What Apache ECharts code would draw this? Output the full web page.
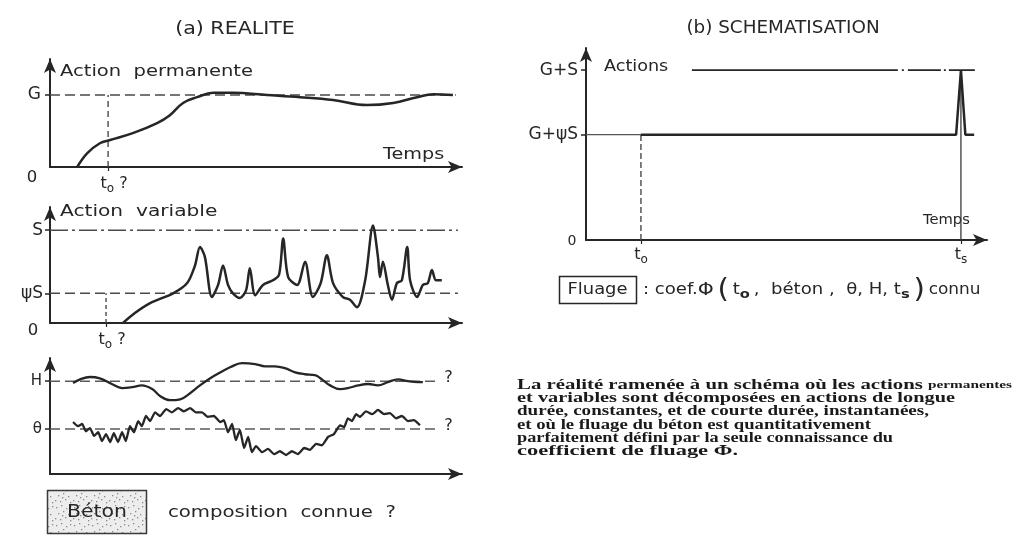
<!DOCTYPE html>
<html>
<head>
<meta charset="utf-8">
<script src="https://cdn.jsdelivr.net/npm/echarts@6/dist/echarts.min.js"></script>
<style>
  html, body { margin: 0; padding: 0; background: #ffffff; }
  #chart { width: 1017px; height: 535px; }
</style>
</head>
<body>
<div id="chart"></div>
<script>
// Time runs 0..100 along every axis; levels are in units of the labelled reference value.

// (a) permanent action G
const permanentLevel = 1;
const permanentT0 = 14.1;
const permanentAction = [[6.6,0],[9.0,0.19],[12.1,0.33],[14.6,0.375],[20.1,0.47],[26.0,0.61],[29.1,0.72],[32.3,0.89],[35.7,0.97],[39.6,1.03],[44.4,1.03],[52.7,1.0],[60.7,0.97],[68.7,0.93],[76.9,0.86],[83.3,0.89],[89.1,0.97],[93.0,1.01],[97.8,1.0]];

// (a) variable action S and its quasi-permanent part psi*S
const variableLevel = 1;
const quasiPermanentLevel = 0.32;
const variableT0 = 13.6;
const variableAction = [[17.7,0],[20.6,0.108],[24.3,0.215],[29.9,0.32],[33.3,0.43],[35.2,0.62],[36.4,0.82],[37.6,0.71],[39.3,0.28],[40.8,0.41],[42.0,0.62],[43.2,0.41],[44.4,0.32],[46.1,0.27],[47.6,0.355],[48.5,0.59],[49.8,0.30],[51.7,0.41],[54.1,0.46],[55.6,0.52],[56.6,0.91],[57.8,0.495],[60.0,0.41],[61.9,0.66],[63.8,0.28],[65.7,0.43],[67.2,0.73],[68.7,0.43],[71.1,0.28],[72.8,0.25],[74.5,0.17],[76.5,0.46],[78.4,1.05],[79.6,0.71],[80.1,0.495],[80.8,0.66],[82.0,0.41],[83.0,0.25],[84.2,0.43],[85.4,0.46],[86.7,0.82],[87.4,0.46],[89.1,0.28],[90.5,0.41],[91.7,0.43],[92.7,0.57],[93.7,0.46],[95.1,0.46]];

// (a) environment: relative humidity H and temperature theta
const humidityLevel = 2.0;
const temperatureLevel = 0.97;
const humidity = [[5.6,1.96],[7.3,2.04],[9.7,2.09],[12.1,2.06],[15.0,1.94],[17.5,1.85],[19.9,1.87],[22.3,1.91],[24.8,1.83],[26.7,1.68],[29.1,1.59],[31.6,1.61],[34.0,1.74],[36.4,1.91],[38.8,2.06],[41.3,2.19],[43.7,2.30],[46.6,2.39],[49.8,2.37],[52.2,2.32],[54.6,2.32],[57.0,2.28],[59.5,2.19],[61.9,2.15],[64.3,2.13],[66.0,2.04],[68.0,1.91],[70.4,1.83],[72.3,1.85],[74.8,1.91],[77.2,1.94],[79.6,1.91],[82.0,1.98],[84.5,2.04],[86.9,2.0],[89.3,1.98],[90.5,1.98]];
const temperature = [[5.6,1.12],[6.8,1.03],[7.8,1.08],[8.7,0.92],[9.7,0.99],[10.7,0.82],[11.7,0.90],[12.6,0.71],[13.6,0.86],[14.6,0.69],[15.5,0.88],[16.5,0.69],[17.5,0.90],[18.4,0.71],[19.4,1.03],[20.4,0.90],[21.4,1.14],[22.3,1.03],[23.3,1.25],[24.3,1.14],[25.5,1.33],[26.7,1.25],[28.2,1.40],[29.6,1.33],[31.1,1.42],[32.5,1.35],[34.0,1.42],[35.4,1.33],[36.9,1.33],[38.3,1.23],[39.8,1.25],[41.3,1.12],[42.2,1.16],[43.2,0.90],[44.2,1.08],[45.1,0.73],[46.1,0.95],[47.1,0.56],[48.1,0.80],[49.0,0.47],[50.0,0.60],[51.5,0.47],[52.9,0.54],[54.4,0.43],[55.8,0.49],[57.3,0.41],[58.7,0.49],[60.2,0.43],[61.7,0.56],[63.1,0.52],[64.6,0.65],[66.0,0.62],[67.5,0.80],[68.9,0.86],[70.4,1.05],[71.4,1.01],[72.3,1.20],[73.3,1.14],[74.3,1.29],[75.2,1.23],[76.7,1.35],[78.2,1.29],[79.6,1.38],[81.1,1.29],[82.5,1.31],[84.0,1.20],[85.4,1.25],[86.9,1.14],[88.3,1.16],[89.8,1.05]];

// (b) schematised actions: G + psi*S from t0, peak G + S at ts
const schemeT0 = 13.7;
const schemeTs = 93.5;
const schemeFull = 1;
const schemeQuasi = 0.62;
const schemeAction = [[13.7,0.62],[92.3,0.62],[93.5,1.0],[94.6,0.62],[96.8,0.62]];
const schemeFullLine = [[26.4,1],[97.6,1]];

// tick labels
const a1TickValues = [permanentLevel];
const a1TickNames = ['G'];
const a2TickValues = [quasiPermanentLevel, variableLevel];
const a2TickNames = ['ψS', 'S'];
const a3TickValues = [temperatureLevel, humidityLevel];
const a3TickNames = ['θ', 'H'];
const bTickValues = [schemeQuasi, schemeFull];
const bTickNames = ['G+ψS', 'G+S'];
const paragraph = [
  'La réalité ramenée à un schéma où les actions',
  'et variables sont décomposées en actions de longue',
  'durée, constantes, et de courte durée, instantanées,',
  'et où le fluage du béton est quantitativement',
  'parfaitement défini par la seule connaissance du',
  'coefficient de fluage Φ.'
];
const paragraphTail = 'permanentes';
// right edge of each printed line
const paragraphEnds = [1012, 955, 929, 871, 893, 738];

const INK = '#262626';
const DASH = '#4a4a4a';
const SANS = '"DejaVu Sans", "Liberation Sans", sans-serif';
const SERIF_B = 'bold 15px "Liberation Serif", "DejaVu Serif", serif';
const SERIF_S = 'bold 11px "Liberation Serif", "DejaVu Serif", serif';
const WIDE = 1.2; // horizontal stretch of the stencil lettering

function pickName(vals, names, v) {
  let best = 0;
  for (let i = 1; i < vals.length; i++) if (Math.abs(vals[i] - v) < Math.abs(vals[best] - v)) best = i;
  return names[best];
}

function axisLineStyle() {
  return { show: true, onZero: false, symbol: ['none', 'arrow'], symbolSize: [9, 14], lineStyle: { color: INK, width: 2 } };
}

function yAxis(gridIndex, max, vals, names, size, margin) {
  return {
    type: 'value', gridIndex, min: 0, max,
    axisLine: axisLineStyle(),
    axisTick: { show: true, customValues: vals, length: 5, lineStyle: { color: INK, width: 1.5 } },
    axisLabel: { show: true, customValues: vals, margin, color: INK, fontSize: size, fontFamily: SANS,
      formatter: v => pickName(vals, names, v) },
    splitLine: { show: false }
  };
}

const subRich = {
  g: { width: 12 },
  t: { fontSize: 16, fontFamily: SANS, color: INK, lineHeight: 22 },
  s: { fontSize: 12, fontFamily: SANS, color: INK, lineHeight: 22, padding: [9, 0, 0, 0] }
};

function xAxis(gridIndex, vals, formatter, margin) {
  return {
    type: 'value', gridIndex, min: 0, max: 100,
    axisLine: axisLineStyle(),
    axisTick: { show: vals.length > 0, customValues: vals, length: 4, lineStyle: { color: INK, width: 1.2 } },
    axisLabel: { show: vals.length > 0, customValues: vals, margin, color: INK, formatter, rich: subRich },
    splitLine: { show: false }
  };
}

function curve(xi, data, smooth, width) {
  return { type: 'line', xAxisIndex: xi, yAxisIndex: xi, data, smooth, showSymbol: false, silent: true,
    lineStyle: { color: INK, width: width || 2.5 } };
}
function guide(xi, data, type, width, color, endText) {
  const s = { type: 'line', xAxisIndex: xi, yAxisIndex: xi, data, showSymbol: false, silent: true,
    lineStyle: { color: color || DASH, width: width || 1.6, type: type } };
  if (endText) s.endLabel = { show: true, formatter: endText, distance: 7, offset: [0, -3], color: INK, fontSize: 16, fontFamily: SANS };
  return s;
}

function label(x, y, text, size, align, stretch) {
  return { type: 'text', x, y, scaleX: stretch || WIDE, scaleY: 1,
    style: { text, font: size + 'px ' + SANS, fill: INK, align: align || 'left', verticalAlign: 'middle' } };
}

// speckled fill for the concrete box
const speck = document.createElement('canvas');
speck.width = 18; speck.height = 18;
(function () {
  const c = speck.getContext('2d');
  c.fillStyle = '#ededed'; c.fillRect(0, 0, 18, 18);
  c.fillStyle = '#8a8a8a';
  [[2,3],[7,1],[12,4],[16,2],[4,9],[9,7],[14,10],[1,14],[6,15],[11,13],[16,16],[8,11]].forEach(p => c.fillRect(p[0], p[1], 1.3, 1.3));
})();

const measure = document.createElement('canvas').getContext('2d');
function textWidth(font, text) { measure.font = font; return measure.measureText(text).width; }

const chart = echarts.init(document.getElementById('chart'), null, { renderer: 'canvas' });

const graphics = [
  label(235, 30, '(a) REALITE', 17, 'center', 1.21),
  label(783, 29, '(b) SCHEMATISATION', 17, 'center', 1.08),
  label(60, 72, 'Action  permanente', 16, 'left', 1.22),
  label(383, 155, 'Temps', 16, 'left', 1.2),
  label(32, 178, '0', 15, 'center', 1.1),
  label(60, 212, 'Action  variable', 16, 'left', 1.26),
  label(33, 331, '0', 15, 'center', 1.1),
  label(604, 67, 'Actions', 16, 'left', 1.1),
  label(923, 220, 'Temps', 14, 'left', 1.05),
  label(572, 241, '0', 14, 'center', 1),
  // creep statement
  { type: 'rect', shape: { x: 559.5, y: 276.5, width: 77, height: 27 }, style: { fill: '#fff', stroke: INK, lineWidth: 1.5 } },
  label(597.5, 290, 'Fluage', 16, 'center', 1.12),
  { type: 'text', x: 643, y: 290, scaleX: 1.13, style: {
      text: '{n|: coef.}{f|Φ} {p|(} {n|t}{s|o} {n|,  béton ,  θ, H, t}{s|s} {p|)} {c|connu}',
      align: 'left', verticalAlign: 'middle',
      rich: {
        n: { font: '16px ' + SANS, fill: INK, lineHeight: 26 },
        f: { font: '18px ' + SANS, fill: INK, lineHeight: 26 },
        p: { font: '26px ' + SANS, fill: INK, lineHeight: 26 },
        s: { font: 'bold 13px ' + SANS, fill: INK, lineHeight: 26, padding: [10, 0, 0, 0] },
        c: { font: '15px ' + SANS, fill: INK, lineHeight: 26 }
      } } },
  // concrete box
  { type: 'rect', shape: { x: 47.5, y: 490.5, width: 99, height: 43 }, style: { fill: { image: speck, repeat: 'repeat' }, stroke: '#3a3a3a', lineWidth: 1.5 } },
  label(97, 513, 'Béton', 17, 'center', 1.2),
  label(168, 513, 'composition  connue  ?', 16, 'left', 1.23)
];

const paraLeft = 517;
paragraph.forEach((line, i) => {
  const style = { text: line, font: SERIF_B, fill: '#1a1a1a', align: 'left', verticalAlign: 'middle' };
  let natural = textWidth(SERIF_B, line);
  if (i === 0) {
    style.text = '{m|' + line + '} {k|' + paragraphTail + '}';
    style.rich = { m: { font: SERIF_B, fill: '#1a1a1a' }, k: { font: SERIF_S, fill: '#1a1a1a' } };
    natural += textWidth(SERIF_B, ' ') + textWidth(SERIF_S, paragraphTail);
  }
  graphics.push({ type: 'text', x: paraLeft, y: 385 + i * 13.3, scaleX: (paragraphEnds[i] - paraLeft) / natural, style });
});

chart.setOption({
  animation: false,
  backgroundColor: '#ffffff',
  grid: [
    { left: 50, top: 59, width: 412, height: 108 },
    { left: 50, top: 207, width: 412, height: 116 },
    { left: 50, top: 358, width: 412, height: 116 },
    { left: 586, top: 48, width: 401, height: 192 }
  ],
  xAxis: [
    xAxis(0, [permanentT0], () => '{g|}{t|t}{s|o}{t| ?}', 6),
    xAxis(1, [variableT0], () => '{g|}{t|t}{s|o}{t| ?}', 6),
    xAxis(2, [], () => '', 6),
    xAxis(3, [schemeT0, schemeTs], v => Math.abs(v - schemeT0) < 1 ? '{t|t}{s|o}' : '{t|t}{s|s}', 4)
  ],
  yAxis: [
    yAxis(0, 1.5, a1TickValues, a1TickNames, 17, 9),
    yAxis(1, 1.25, a2TickValues, a2TickNames, 17, 7),
    yAxis(2, 2.5, a3TickValues, a3TickNames, 15, 8),
    yAxis(3, 1.13, bTickValues, bTickNames, 17, 8)
  ],
  graphic: graphics,
  series: [
    guide(0, [[0, permanentLevel], [98.5, permanentLevel]], [10, 5]),
    guide(0, [[permanentT0, 0], [permanentT0, permanentLevel]], [6, 4], 1.4),
    curve(0, permanentAction, 0.4),

    guide(1, [[0, variableLevel], [99, variableLevel]], [18, 4, 3, 4]),
    guide(1, [[0, quasiPermanentLevel], [99, quasiPermanentLevel]], [10, 5]),
    guide(1, [[variableT0, 0], [variableT0, quasiPermanentLevel]], [4, 3], 1.4),
    curve(1, variableAction, 0.3),

    guide(2, [[0, humidityLevel], [94, humidityLevel]], [10, 5], 1.6, '#5a5a5a', '?'),
    guide(2, [[0, temperatureLevel], [94, temperatureLevel]], [10, 5], 1.6, '#5a5a5a', '?'),
    curve(2, humidity, 0.4, 2.3),
    curve(2, temperature, 0.15, 2.3),

    guide(3, [[0, schemeQuasi], [schemeT0, schemeQuasi]], 'solid', 1.2, '#555'),
    guide(3, [[schemeT0, 0], [schemeT0, schemeQuasi]], [6, 3], 1.4),
    guide(3, [[schemeTs, 0], [schemeTs, schemeFull]], 'solid', 1.3, '#3a3a3a'),
    guide(3, schemeFullLine, [206, 4, 2, 4, 33, 3, 2, 3, 26], 1.8, INK),
    curve(3, schemeAction, false, 2.5)
  ]
});
</script>
</body>
</html>
